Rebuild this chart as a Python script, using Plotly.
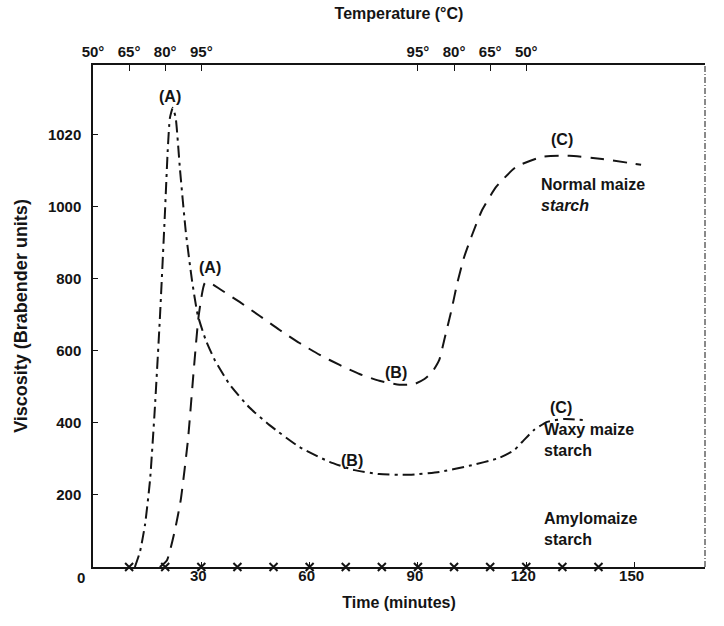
import plotly.graph_objects as go

# ---- data (time in minutes, viscosity in Brabender units) ----
waxy_time = [11.6, 13.0, 14.4, 15.8, 17.1, 18.5, 19.9, 20.7, 21.3, 22.1, 22.9, 24.1, 25.7, 27.4, 29.0,
             31.2, 33.7, 37.9, 43.4, 48.9, 57.2, 65.5, 72.4, 79.3, 87.6, 95.9, 104.2, 112.5, 116.7,
             119.4, 122.2, 125.8, 130.5, 136.0]
waxy_visc = [0, 42, 117, 242, 436, 686, 978, 1158, 1247, 1275, 1247, 1103, 931, 797, 700,
             631, 575, 506, 442, 394, 333, 292, 269, 258, 256, 264, 281, 303, 325,
             353, 381, 403, 411, 408]

normal_time = [18.5, 20.5, 22.7, 24.3, 26.3, 27.9, 29.3, 31.0, 32.9, 35.1, 40.6, 46.2, 51.7, 57.2,
               62.8, 68.3, 73.8, 79.3, 84.9, 89.0, 91.8, 94.0, 95.9, 97.3, 99.3, 100.9, 102.8,
               104.8, 107.8, 111.7, 117.2, 124.4, 131.9, 141.0, 151.8]
normal_visc = [0, 19, 103, 186, 353, 547, 700, 789, 786, 772, 736, 697, 658, 622,
               589, 561, 536, 517, 506, 508, 522, 542, 575, 631, 714, 789, 861,
               917, 992, 1056, 1111, 1139, 1142, 1133, 1117]

amylo_time = [10, 20, 30, 40, 50, 60, 70, 80, 90, 100, 110, 120, 130, 140]
amylo_visc = [0, 0, 0, 0, 0, 0, 0, 0, 0, 0, 0, 0, 0, 0]

time_ticks = [30, 60, 90, 120, 150]
visc_tickvals = [200, 400, 600, 800, 1000, 1200]
visc_ticktext = ["200", "400", "600", "800", "1000", "1020"]
temp_tickvals = [0, 10, 20, 30, 90, 100, 110, 120, 170]
temp_ticktext = ["50°", "65°", "80°", "95°", "95°", "80°", "65°", "50°", "50°"]

X_RANGE = [0, 169.5]
Y_RANGE = [0, 1394]
INK = "#141414"
FONT = "Liberation Sans"

fig = go.Figure()
fig.add_trace(go.Scatter(x=waxy_time, y=waxy_visc, mode="lines",
                         line=dict(color=INK, width=2, dash="12px,5px,3px,5px", shape="spline", smoothing=0.5),
                         name="Waxy maize starch"))
fig.add_trace(go.Scatter(x=normal_time, y=normal_visc, mode="lines",
                         line=dict(color=INK, width=2, dash="14px,9px", shape="spline", smoothing=0.5),
                         name="Normal maize starch"))
fig.add_trace(go.Scatter(x=amylo_time, y=amylo_visc, mode="markers",
                         marker=dict(symbol="x-thin", size=8, line=dict(color=INK, width=2)),
                         cliponaxis=False, name="Amylomaize starch"))
# invisible trace to activate the top axis
fig.add_trace(go.Scatter(x=X_RANGE, y=[0, 0], xaxis="x2", mode="lines",
                         line=dict(width=0), showlegend=False, hoverinfo="skip"))

tick_font = dict(family=FONT, size=15, color=INK, weight="bold")
title_font = dict(family=FONT, size=16, color=INK, weight="bold")
fig.update_layout(
    width=724, height=626,
    margin=dict(l=93, r=19, t=65, b=59),
    paper_bgcolor="white", plot_bgcolor="white",
    showlegend=False,
    font=dict(family=FONT, color=INK),
    xaxis=dict(range=X_RANGE, tickvals=time_ticks, ticks="inside", ticklen=5, tickcolor=INK,
               showline=True, linecolor=INK, linewidth=1.5, showgrid=False, zeroline=False,
               tickfont=tick_font, ticklabelshift=-3, ticklabelstandoff=-6,
               title=dict(text="Time (minutes)", font=title_font, standoff=14)),
    xaxis2=dict(range=X_RANGE, overlaying="x", side="top", tickvals=temp_tickvals, ticktext=temp_ticktext,
                ticks="inside", ticklen=6, tickcolor=INK, showline=True, linecolor=INK, linewidth=1.5,
                showgrid=False, zeroline=False, tickfont=tick_font,
                title=dict(text="Temperature (°C)", font=title_font, standoff=20)),
    yaxis=dict(range=Y_RANGE, tickvals=visc_tickvals, ticktext=visc_ticktext, ticks="inside", ticklen=5,
               tickcolor=INK, showline=True, linecolor=INK, linewidth=1.5, showgrid=False, zeroline=False,
               tickfont=tick_font, ticklabelstandoff=7,
               title=dict(text="Viscosity (Brabender units)",
                          font=dict(family=FONT, size=18, color=INK, weight="bold"), standoff=16)),
)

# right border (thin broken line)
fig.add_shape(type="line", xref="paper", yref="paper", x0=1, x1=1, y0=0, y1=1,
              line=dict(color=INK, width=1, dash="6px,2px,1px,2px"))

ann_font = dict(family=FONT, size=16, color=INK, weight="bold")
labels = [
    (21.3, 1306, "(A)"), (32.3, 831, "(A)"), (84.0, 539, "(B)"), (71.6, 295, "(B)"),
    (130.0, 1186, "(C)"), (129.7, 442, "(C)"),
]
for x, y, t in labels:
    fig.add_annotation(x=x, y=y, text=t, showarrow=False, font=ann_font)

blocks = [
    (123.6, 1033, "Normal maize<br><i>starch</i>"),
    (124.4, 352, "Waxy maize<br>starch"),
    (124.4, 105, "Amylomaize<br>starch"),
]
for x, y, t in blocks:
    fig.add_annotation(x=x, y=y, text=t, showarrow=False, xanchor="left", align="left", font=ann_font)

fig.add_annotation(x=0, y=0, text="0", showarrow=False, xanchor="center", yanchor="top",
                   xshift=-12, yshift=0, font=tick_font)

fig.write_html("out.html")
